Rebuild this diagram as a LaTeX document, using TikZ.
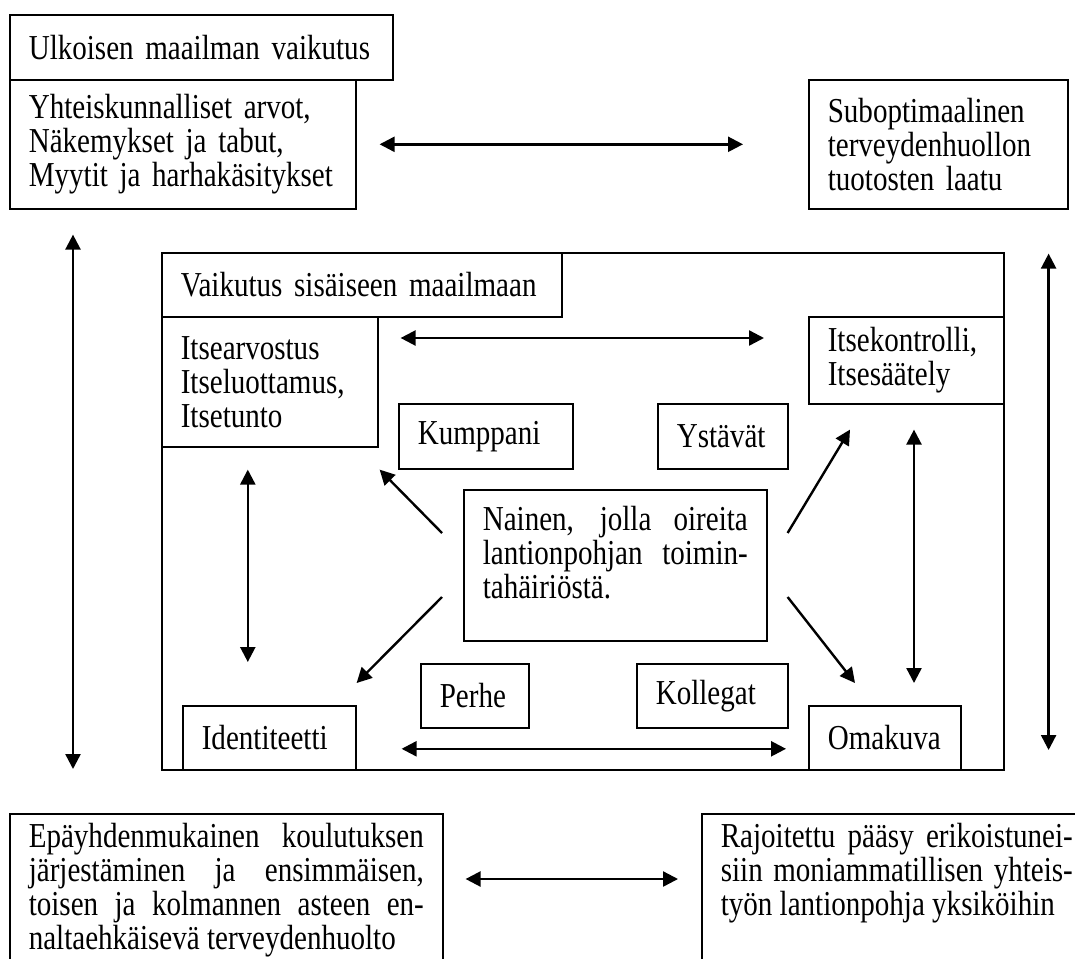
\documentclass[tikz,border=0pt]{standalone}
\usepackage{fontspec}
\setmainfont{Liberation Serif}[FakeStretch=0.83]
\usetikzlibrary{arrows.meta,calc}
\newcommand{\boxfont}{\fontsize{35}{34}\selectfont}
\tolerance=9999
\hyphenpenalty=10000

\begin{document}
\begin{tikzpicture}[x=1pt,y=-1pt,
		box/.style={draw,line width=1.6pt,anchor=north west,inner xsep=19pt,inner ysep=0pt,align=left,font=\boxfont},
		lowbox/.style={box,inner ysep=9pt,align=justify,text depth=150pt},
		twoway/.style={line width=2.4pt,{Triangle[length=15pt,width=15pt]}-{Triangle[length=15pt,width=15pt]}},
		oneway/.style={line width=2.4pt,-{Triangle[length=15pt,width=15pt]}}]
		\useasboundingbox (0,0) rectangle (1075,958);
		\clip (0,0) rectangle (1075,958);
		\node[box,text width=345pt,minimum height=65pt] (ulko) at (9,14) {Ulkoisen maailman vaikutus};
		\node[box,text width=308pt,minimum height=129pt] (arvot) at (9,79) {Yhteiskunnalliset arvot,\\ Näkemykset ja tabut,\\ Myytit ja harhakäsitykset};
		\node[box,text width=221pt,minimum height=129pt] (subopt) at (808,79) {Suboptimaalinen\\ terveydenhuollon\\ tuotosten laatu};
		\node[box,inner xsep=0pt,minimum width=842pt,minimum height=517pt] (sisa) at (161,252) {};
		\node[box,text width=362pt,minimum height=64pt] (vaikutus) at (161,252) {Vaikutus sisäiseen maailmaan};
		\node[box,text width=178pt,minimum height=130pt] (itsearvo) at (161,316) {Itsearvostus\\ Itseluottamus,\\ Itsetunto};
		\node[box,text width=157pt,minimum height=87pt] (itsekontr) at (808,316) {Itsekontrolli,\\ Itsesäätely};
		\node[box,text width=136pt,minimum height=65pt] (kumppani) at (398,403) {Kumppani};
		\node[box,text width=92pt,minimum height=65pt] (ystavat) at (657,403) {Ystävät};
		\node[box,text width=265pt,minimum height=151pt,align=justify,text depth=93pt] (nainen) at (463,489) {Nainen, jolla oireita\linebreak lantionpohjan toimin-\linebreak tahäiriöstä.};
		\node[box,text width=70pt,minimum height=64pt] (perhe) at (420,663) {Perhe};
		\node[box,text width=113pt,minimum height=64pt] (kollegat) at (636,663) {Kollegat};
		\node[box,text width=135pt,minimum height=64pt] (identit) at (182,705) {Identiteetti};
		\node[box,text width=114pt,minimum height=64pt] (omakuva) at (808,705) {Omakuva};
		\node[lowbox,text width=395pt] (koulutus) at (9,813) {Epäyhdenmukainen koulutuksen\linebreak järjestäminen ja ensimmäisen,\linebreak toisen ja kolmannen asteen en-\linebreak naltaehkäisevä terveydenhuolto};
		\node[lowbox,text width=352pt] (rajoitettu) at (701,813) {Rajoitettu pääsy erikoistunei-\linebreak siin moniammatillisen yhteis-\linebreak työn lantionpohja yksiköihin};
		\coordinate (ltop) at ([xshift=64pt]arvot.south west);
		\coordinate (rtop) at ([xshift=-20pt]subopt.south east);
		\coordinate (aik) at ([yshift=-22pt]itsearvo.north east);
		\coordinate (aid) at ([xshift=-22pt]itsearvo.south);
		\coordinate (kom) at ([xshift=106pt]itsekontr.south west);
		\coordinate (iom) at ([yshift=-11pt]identit.east);
		\coordinate (kra) at ([yshift=-66pt]koulutus.north east);
		\draw[twoway,shorten <=23pt,shorten >=65pt] (arvot.east) -- (subopt.west);
		\draw[twoway,shorten <=25pt,shorten >=44pt] (ltop) -- (ltop |- koulutus.north);
		\draw[twoway,shorten <=44pt,shorten >=63pt] (rtop) -- (rtop |- rajoitettu.north);
		\draw[twoway,shorten <=22pt,shorten >=44pt] (aik) -- (aik -| itsekontr.west);
		\draw[twoway,shorten <=22pt,shorten >=43pt] (aid) -- (aid |- identit.north);
		\draw[twoway,shorten <=25pt,shorten >=22pt] (kom) -- (kom |- omakuva.north);
		\draw[twoway,shorten <=45pt,shorten >=22pt] (iom) -- (iom -| omakuva.west);
		\draw[twoway,shorten <=22pt,shorten >=23pt] (kra) -- (kra -| rajoitettu.west);
		\draw[oneway] ([shift={(-21,44)}]nainen.north west) -- ([shift={(1,22)}]itsearvo.south east);
		\draw[oneway] ([shift={(-21,108)}]nainen.north west) -- ([shift={(0,-22)}]identit.north east);
		\draw[oneway] ([shift={(20,44)}]nainen.north east) -- ([shift={(42,25)}]itsekontr.south west);
		\draw[oneway] ([shift={(20,108)}]nainen.north east) -- ([shift={(47,-22)}]omakuva.north west);
		\end{tikzpicture}
\end{document}
